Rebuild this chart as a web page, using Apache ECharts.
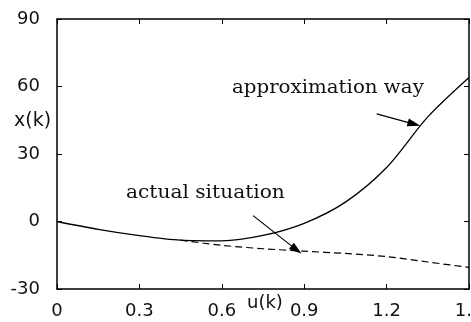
<!DOCTYPE html>
<html>
<head>
<meta charset="utf-8">
<script src="https://cdn.jsdelivr.net/npm/echarts@6/dist/echarts.min.js"></script>
<style>
  html, body { margin: 0; padding: 0; background: #fff; }
  #main { width: 471px; height: 322px; }
</style>
</head>
<body>
<div id="main"></div>
<script>
// u(k) values along the x axis, x(k) values
const uApprox = [0, 0.15, 0.3, 0.45, 0.6, 0.75, 0.9, 1.05, 1.2, 1.35, 1.5];
const xApprox = [0, -3.5, -6.3, -8.3, -8.6, -6.2, -0.8, 8.6, 24, 46.5, 64];

const uActual = [0.45, 0.6, 0.75, 0.9, 1.05, 1.2, 1.35, 1.5];
const xActual = [-8.3, -10.6, -12.1, -13.2, -14.2, -15.6, -18.0, -20.4];

const xTickLabels = ['0', '0.3', '0.6', '0.9', '1.2', '1.5'];
const yTickLabels = ['-30', '0', '30', '60', '90'];

// annotation arrows: [start, end] in data space
const approxArrow = [[1.164, 47.8], [1.300, 43.3]];
const actualArrow = [[0.714, 2.6], [0.872, -12.6]];

const chart = echarts.init(document.getElementById('main'), null, { renderer: 'canvas' });

const labelFont = { fontFamily: 'DejaVu Sans', fontSize: 18, color: '#111' };
const noteFont = { fontFamily: 'DejaVu Serif', fontSize: 18, fill: '#111' };

function pairs(us, xs) {
  return us.map((u, i) => [u, xs[i]]);
}

const frameAxis = {
  axisLine: { show: true, onZero: false, lineStyle: { color: '#000', width: 1.5 } },
  axisTick: { show: true, inside: true, length: 5, lineStyle: { color: '#000', width: 1 } },
  splitLine: { show: false }
};

chart.setOption({
  backgroundColor: '#fff',
  animation: false,
  grid: { left: 57, top: 19, right: 2, bottom: 33, outerBoundsMode: 'none', containLabel: false },
  xAxis: [
    {
      type: 'value', min: 0, max: 1.5, interval: 0.3, position: 'bottom',
      ...frameAxis,
      axisLabel: {
        ...labelFont, margin: 13,
        formatter: v => xTickLabels[Math.round(v / 0.3)]
      }
    },
    {
      type: 'value', min: 0, max: 1.5, interval: 0.3, position: 'top',
      ...frameAxis, axisLabel: { show: false }
    }
  ],
  yAxis: [
    {
      type: 'value', min: -30, max: 90, interval: 30, position: 'left',
      ...frameAxis,
      axisLabel: {
        ...labelFont, margin: 17,
        formatter: v => yTickLabels[Math.round((v + 30) / 30)]
      }
    },
    {
      type: 'value', min: -30, max: 90, interval: 30, position: 'right',
      ...frameAxis, axisLabel: { show: false }
    }
  ],
  series: [
    {
      name: 'approximation way',
      type: 'line',
      data: pairs(uApprox, xApprox),
      smooth: 0.3,
      symbol: 'none',
      lineStyle: { color: '#000', width: 1.3 },
      markLine: {
        silent: true,
        symbol: ['none', 'triangle'],
        symbolSize: [8, 13],
        label: { show: false },
        lineStyle: { color: '#000', width: 1.2, type: 'solid' },
        data: [
          [{ coord: approxArrow[0] }, { coord: approxArrow[1] }],
          [{ coord: actualArrow[0] }, { coord: actualArrow[1] }]
        ]
      }
    },
    {
      name: 'actual situation',
      type: 'line',
      data: pairs(uActual, xActual),
      smooth: 0.3,
      symbol: 'none',
      lineStyle: { color: '#000', width: 1.2, type: [7, 4] }
    }
  ],
  graphic: [
    { type: 'text', x: 232, y: 79, scaleX: 1.1, style: { text: 'approximation way', ...noteFont } },
    { type: 'text', x: 126, y: 184, scaleX: 1.12, style: { text: 'actual situation', ...noteFont } },
    { type: 'text', x: 14, y: 112, style: { text: 'x(k)', fontFamily: 'DejaVu Sans', fontSize: 19, fill: '#111' } },
    { type: 'text', x: 247, y: 294, style: { text: 'u(k)', fontFamily: 'DejaVu Sans', fontSize: 18, fill: '#111' } }
  ]
});
</script>
</body>
</html>
